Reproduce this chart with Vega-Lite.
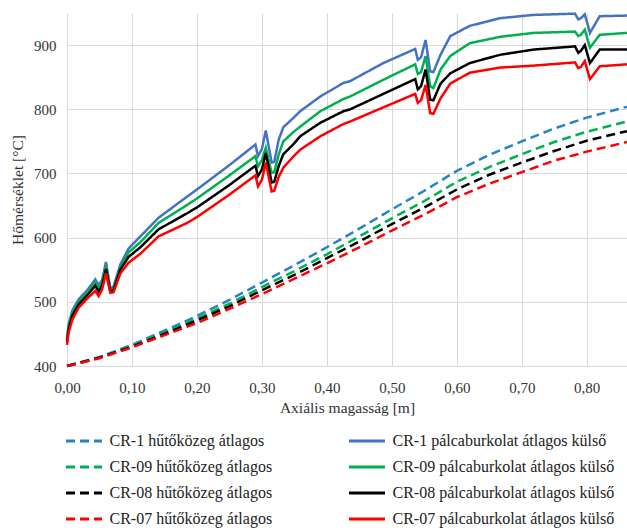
{
  "$schema": "https://vega.github.io/schema/vega-lite/v6.json",
  "width": 560,
  "height": 353,
  "autosize": {"type": "none"},
  "padding": {"left": 67, "top": 13, "right": 0, "bottom": 164},
  "background": "white",
  "config": {"view": {"stroke": null}, "font": "Liberation Serif"},
  "datasets": {
    "cool": [
      {"x": 0, "CR-1 hűtőközeg átlagos": 400, "CR-09 hűtőközeg átlagos": 400, "CR-08 hűtőközeg átlagos": 400, "CR-07 hűtőközeg átlagos": 400},
      {"x": 0.05, "CR-1 hűtőközeg átlagos": 414, "CR-09 hűtőközeg átlagos": 413, "CR-08 hűtőközeg átlagos": 413, "CR-07 hűtőközeg átlagos": 412},
      {"x": 0.1, "CR-1 hűtőközeg átlagos": 433, "CR-09 hűtőközeg átlagos": 431, "CR-08 hűtőközeg átlagos": 430, "CR-07 hűtőközeg átlagos": 429},
      {"x": 0.15, "CR-1 hűtőközeg átlagos": 455, "CR-09 hűtőközeg átlagos": 452, "CR-08 hűtőközeg átlagos": 450, "CR-07 hűtőközeg átlagos": 448},
      {"x": 0.2, "CR-1 hűtőközeg átlagos": 478, "CR-09 hűtőközeg átlagos": 474, "CR-08 hűtőközeg átlagos": 471, "CR-07 hűtőközeg átlagos": 467},
      {"x": 0.25, "CR-1 hűtőközeg átlagos": 503, "CR-09 hűtőközeg átlagos": 497, "CR-08 hűtőközeg átlagos": 493, "CR-07 hűtőközeg átlagos": 489},
      {"x": 0.3, "CR-1 hűtőközeg átlagos": 530, "CR-09 hűtőközeg átlagos": 523, "CR-08 hűtőközeg átlagos": 518, "CR-07 hűtőközeg átlagos": 512},
      {"x": 0.35, "CR-1 hűtőközeg átlagos": 557, "CR-09 hűtőközeg átlagos": 548, "CR-08 hűtőközeg átlagos": 542, "CR-07 hűtőközeg átlagos": 536},
      {"x": 0.4, "CR-1 hűtőközeg átlagos": 585, "CR-09 hűtőközeg átlagos": 574, "CR-08 hűtőközeg átlagos": 568, "CR-07 hűtőközeg átlagos": 560},
      {"x": 0.45, "CR-1 hűtőközeg átlagos": 614, "CR-09 hűtőközeg átlagos": 602, "CR-08 hűtőközeg átlagos": 594, "CR-07 hűtőközeg átlagos": 585},
      {"x": 0.5, "CR-1 hűtőközeg átlagos": 644, "CR-09 hűtőközeg átlagos": 630, "CR-08 hűtőközeg átlagos": 621, "CR-07 hűtőközeg átlagos": 611},
      {"x": 0.55, "CR-1 hűtőközeg átlagos": 673, "CR-09 hűtőközeg átlagos": 657, "CR-08 hűtőközeg átlagos": 647, "CR-07 hűtőközeg átlagos": 636},
      {"x": 0.6, "CR-1 hűtőközeg átlagos": 704, "CR-09 hűtőközeg átlagos": 687, "CR-08 hűtőközeg átlagos": 675, "CR-07 hűtőközeg átlagos": 663},
      {"x": 0.65, "CR-1 hűtőközeg átlagos": 729, "CR-09 hűtőközeg átlagos": 710, "CR-08 hűtőközeg átlagos": 698, "CR-07 hűtőközeg átlagos": 684},
      {"x": 0.7, "CR-1 hűtőközeg átlagos": 750, "CR-09 hűtőközeg átlagos": 730, "CR-08 hűtőközeg átlagos": 717, "CR-07 hűtőközeg átlagos": 702},
      {"x": 0.75, "CR-1 hűtőközeg átlagos": 770, "CR-09 hűtőközeg átlagos": 749, "CR-08 hűtőközeg átlagos": 735, "CR-07 hűtőközeg átlagos": 720},
      {"x": 0.8, "CR-1 hűtőközeg átlagos": 787, "CR-09 hűtőközeg átlagos": 765, "CR-08 hűtőközeg átlagos": 751, "CR-07 hűtőközeg átlagos": 734},
      {"x": 0.862, "CR-1 hűtőközeg átlagos": 804, "CR-09 hűtőközeg átlagos": 781, "CR-08 hűtőközeg átlagos": 766, "CR-07 hűtőközeg átlagos": 749}
    ],
    "clad": [
      {"x": 0, "CR-1 pálcaburkolat átlagos külső": 443, "CR-09 pálcaburkolat átlagos külső": 440, "CR-08 pálcaburkolat átlagos külső": 437, "CR-07 pálcaburkolat átlagos külső": 433},
      {"x": 0.0025, "CR-1 pálcaburkolat átlagos külső": 465, "CR-09 pálcaburkolat átlagos külső": 461, "CR-08 pálcaburkolat átlagos külső": 457, "CR-07 pálcaburkolat átlagos külső": 452},
      {"x": 0.008, "CR-1 pálcaburkolat átlagos külső": 486, "CR-09 pálcaburkolat átlagos külső": 482, "CR-08 pálcaburkolat átlagos külső": 478, "CR-07 pálcaburkolat átlagos külső": 472},
      {"x": 0.018, "CR-1 pálcaburkolat átlagos külső": 504, "CR-09 pálcaburkolat átlagos külső": 500, "CR-08 pálcaburkolat átlagos külső": 496, "CR-07 pálcaburkolat átlagos külső": 491},
      {"x": 0.031, "CR-1 pálcaburkolat átlagos külső": 518, "CR-09 pálcaburkolat átlagos külső": 514, "CR-08 pálcaburkolat átlagos külső": 510, "CR-07 pálcaburkolat átlagos külső": 505},
      {"x": 0.0435, "CR-1 pálcaburkolat átlagos külső": 535, "CR-09 pálcaburkolat átlagos külső": 530, "CR-08 pálcaburkolat átlagos külső": 525, "CR-07 pálcaburkolat átlagos külső": 517},
      {"x": 0.0487, "CR-1 pálcaburkolat átlagos külső": 526, "CR-09 pálcaburkolat átlagos külső": 521, "CR-08 pálcaburkolat átlagos külső": 516, "CR-07 pálcaburkolat átlagos külső": 509},
      {"x": 0.054, "CR-1 pálcaburkolat átlagos külső": 534, "CR-09 pálcaburkolat átlagos külső": 530, "CR-08 pálcaburkolat átlagos külső": 525, "CR-07 pálcaburkolat átlagos külső": 519},
      {"x": 0.06, "CR-1 pálcaburkolat átlagos külső": 562, "CR-09 pálcaburkolat átlagos külső": 556, "CR-08 pálcaburkolat átlagos külső": 551, "CR-07 pálcaburkolat átlagos külső": 545},
      {"x": 0.0667, "CR-1 pálcaburkolat átlagos külső": 521, "CR-09 pálcaburkolat átlagos külső": 518, "CR-08 pálcaburkolat átlagos külső": 516, "CR-07 pálcaburkolat átlagos külső": 514},
      {"x": 0.0717, "CR-1 pálcaburkolat átlagos külső": 524, "CR-09 pálcaburkolat átlagos külső": 521, "CR-08 pálcaburkolat átlagos külső": 518, "CR-07 pálcaburkolat átlagos külső": 515},
      {"x": 0.082, "CR-1 pálcaburkolat átlagos külső": 558, "CR-09 pálcaburkolat átlagos külső": 553, "CR-08 pálcaburkolat átlagos külső": 550, "CR-07 pálcaburkolat átlagos külső": 544},
      {"x": 0.0948, "CR-1 pálcaburkolat átlagos külső": 583, "CR-09 pálcaburkolat átlagos külső": 577, "CR-08 pálcaburkolat átlagos külső": 570, "CR-07 pálcaburkolat átlagos külső": 561},
      {"x": 0.113, "CR-1 pálcaburkolat átlagos külső": 602, "CR-09 pálcaburkolat átlagos külső": 593, "CR-08 pálcaburkolat átlagos külső": 585, "CR-07 pálcaburkolat átlagos külső": 575},
      {"x": 0.141, "CR-1 pálcaburkolat átlagos külső": 631, "CR-09 pálcaburkolat átlagos külső": 623, "CR-08 pálcaburkolat átlagos külső": 613, "CR-07 pálcaburkolat átlagos külső": 602},
      {"x": 0.185, "CR-1 pálcaburkolat átlagos külső": 664, "CR-09 pálcaburkolat átlagos külső": 651, "CR-08 pálcaburkolat átlagos külső": 638, "CR-07 pálcaburkolat átlagos külső": 623},
      {"x": 0.2, "CR-1 pálcaburkolat átlagos külső": 675, "CR-09 pálcaburkolat átlagos külső": 661, "CR-08 pálcaburkolat átlagos külső": 647, "CR-07 pálcaburkolat átlagos külső": 632},
      {"x": 0.25, "CR-1 pálcaburkolat átlagos külső": 713, "CR-09 pálcaburkolat átlagos külső": 697, "CR-08 pálcaburkolat átlagos külső": 682, "CR-07 pálcaburkolat átlagos külső": 667},
      {"x": 0.29, "CR-1 pálcaburkolat átlagos külső": 745, "CR-09 pálcaburkolat átlagos külső": 727, "CR-08 pálcaburkolat átlagos külső": 712, "CR-07 pálcaburkolat átlagos külső": 697},
      {"x": 0.294, "CR-1 pálcaburkolat átlagos külső": 727, "CR-09 pálcaburkolat átlagos külső": 711, "CR-08 pálcaburkolat átlagos külső": 696, "CR-07 pálcaburkolat átlagos külső": 680},
      {"x": 0.3, "CR-1 pálcaburkolat átlagos külső": 738, "CR-09 pálcaburkolat átlagos külső": 721, "CR-08 pálcaburkolat átlagos külső": 706, "CR-07 pálcaburkolat átlagos külső": 690},
      {"x": 0.306, "CR-1 pálcaburkolat átlagos külső": 767, "CR-09 pálcaburkolat átlagos külső": 740, "CR-08 pálcaburkolat átlagos külső": 732, "CR-07 pálcaburkolat átlagos külső": 717},
      {"x": 0.315, "CR-1 pálcaburkolat átlagos külső": 717, "CR-09 pálcaburkolat átlagos külső": 701, "CR-08 pálcaburkolat átlagos külső": 686, "CR-07 pálcaburkolat átlagos külső": 672},
      {"x": 0.319, "CR-1 pálcaburkolat átlagos külső": 718, "CR-09 pálcaburkolat átlagos külső": 702, "CR-08 pálcaburkolat átlagos külső": 687, "CR-07 pálcaburkolat átlagos külső": 673},
      {"x": 0.326, "CR-1 pálcaburkolat átlagos külső": 753, "CR-09 pálcaburkolat átlagos külső": 730, "CR-08 pálcaburkolat átlagos külső": 712, "CR-07 pálcaburkolat átlagos külső": 695},
      {"x": 0.333, "CR-1 pálcaburkolat átlagos külső": 772, "CR-09 pálcaburkolat átlagos külső": 750, "CR-08 pálcaburkolat átlagos külső": 730, "CR-07 pálcaburkolat átlagos külső": 709},
      {"x": 0.349, "CR-1 pálcaburkolat átlagos külső": 787, "CR-09 pálcaburkolat átlagos külső": 765, "CR-08 pálcaburkolat átlagos külső": 746, "CR-07 pálcaburkolat átlagos külső": 727},
      {"x": 0.359, "CR-1 pálcaburkolat átlagos külső": 797, "CR-09 pálcaburkolat átlagos külső": 773, "CR-08 pálcaburkolat átlagos külső": 758, "CR-07 pálcaburkolat átlagos külső": 737},
      {"x": 0.39, "CR-1 pálcaburkolat átlagos külső": 820, "CR-09 pálcaburkolat átlagos külső": 797, "CR-08 pálcaburkolat átlagos külső": 779, "CR-07 pálcaburkolat átlagos külső": 758},
      {"x": 0.4255, "CR-1 pálcaburkolat átlagos külső": 841, "CR-09 pálcaburkolat átlagos külső": 816, "CR-08 pálcaburkolat átlagos külső": 797, "CR-07 pálcaburkolat átlagos külső": 777},
      {"x": 0.436, "CR-1 pálcaburkolat átlagos külső": 844, "CR-09 pálcaburkolat átlagos külső": 820, "CR-08 pálcaburkolat átlagos külső": 800, "CR-07 pálcaburkolat átlagos külső": 781},
      {"x": 0.487, "CR-1 pálcaburkolat átlagos külső": 872, "CR-09 pálcaburkolat átlagos külső": 846, "CR-08 pálcaburkolat átlagos külső": 824, "CR-07 pálcaburkolat átlagos külső": 803},
      {"x": 0.536, "CR-1 pálcaburkolat átlagos külső": 894, "CR-09 pálcaburkolat átlagos külső": 870, "CR-08 pálcaburkolat átlagos külső": 847, "CR-07 pálcaburkolat átlagos külső": 824},
      {"x": 0.54, "CR-1 pálcaburkolat átlagos külső": 877, "CR-09 pálcaburkolat átlagos külső": 855, "CR-08 pálcaburkolat átlagos külső": 831, "CR-07 pálcaburkolat átlagos külső": 810},
      {"x": 0.545, "CR-1 pálcaburkolat átlagos külső": 881, "CR-09 pálcaburkolat átlagos külső": 858, "CR-08 pálcaburkolat átlagos külső": 836, "CR-07 pálcaburkolat átlagos külső": 814},
      {"x": 0.552, "CR-1 pálcaburkolat átlagos külső": 908, "CR-09 pálcaburkolat átlagos külső": 883, "CR-08 pálcaburkolat átlagos külső": 862, "CR-07 pálcaburkolat átlagos külső": 838},
      {"x": 0.559, "CR-1 pálcaburkolat átlagos külső": 859, "CR-09 pálcaburkolat átlagos külső": 836, "CR-08 pálcaburkolat átlagos külső": 815, "CR-07 pálcaburkolat átlagos külső": 794},
      {"x": 0.564, "CR-1 pálcaburkolat átlagos külső": 858, "CR-09 pálcaburkolat átlagos külső": 833, "CR-08 pálcaburkolat átlagos külső": 814, "CR-07 pálcaburkolat átlagos külső": 793},
      {"x": 0.575, "CR-1 pálcaburkolat átlagos külső": 885, "CR-09 pálcaburkolat átlagos külső": 862, "CR-08 pálcaburkolat átlagos külső": 840, "CR-07 pálcaburkolat átlagos külső": 817},
      {"x": 0.59, "CR-1 pálcaburkolat átlagos külső": 914, "CR-09 pálcaburkolat átlagos külső": 883, "CR-08 pálcaburkolat átlagos külső": 856, "CR-07 pálcaburkolat átlagos külső": 840},
      {"x": 0.62, "CR-1 pálcaburkolat átlagos külső": 930, "CR-09 pálcaburkolat átlagos külső": 903, "CR-08 pálcaburkolat átlagos külső": 872, "CR-07 pálcaburkolat átlagos külső": 857},
      {"x": 0.667, "CR-1 pálcaburkolat átlagos külső": 942, "CR-09 pálcaburkolat átlagos külső": 913, "CR-08 pálcaburkolat átlagos külső": 885, "CR-07 pálcaburkolat átlagos külső": 865},
      {"x": 0.718, "CR-1 pálcaburkolat átlagos külső": 947, "CR-09 pálcaburkolat átlagos külső": 919, "CR-08 pálcaburkolat átlagos külső": 893, "CR-07 pálcaburkolat átlagos külső": 868},
      {"x": 0.782, "CR-1 pálcaburkolat átlagos külső": 949, "CR-09 pálcaburkolat átlagos külső": 921, "CR-08 pálcaburkolat átlagos külső": 898, "CR-07 pálcaburkolat átlagos külső": 873},
      {"x": 0.787, "CR-1 pálcaburkolat átlagos külső": 940, "CR-09 pálcaburkolat átlagos külső": 914, "CR-08 pálcaburkolat átlagos külső": 888, "CR-07 pálcaburkolat átlagos külső": 864},
      {"x": 0.791, "CR-1 pálcaburkolat átlagos külső": 942, "CR-09 pálcaburkolat átlagos külső": 916, "CR-08 pálcaburkolat átlagos külső": 891, "CR-07 pálcaburkolat átlagos külső": 866},
      {"x": 0.797, "CR-1 pálcaburkolat átlagos külső": 948, "CR-09 pálcaburkolat átlagos külső": 924, "CR-08 pálcaburkolat átlagos külső": 900, "CR-07 pálcaburkolat átlagos külső": 875},
      {"x": 0.805, "CR-1 pálcaburkolat átlagos külső": 919, "CR-09 pálcaburkolat átlagos külső": 896, "CR-08 pálcaburkolat átlagos külső": 872, "CR-07 pálcaburkolat átlagos külső": 847},
      {"x": 0.82, "CR-1 pálcaburkolat átlagos külső": 945, "CR-09 pálcaburkolat átlagos külső": 916, "CR-08 pálcaburkolat átlagos külső": 893, "CR-07 pálcaburkolat átlagos külső": 867},
      {"x": 0.862, "CR-1 pálcaburkolat átlagos külső": 946, "CR-09 pálcaburkolat átlagos külső": 919, "CR-08 pálcaburkolat átlagos külső": 893, "CR-07 pálcaburkolat átlagos külső": 870}
    ]
  },
  "encoding": {
    "x": {
      "field": "x", "type": "quantitative",
      "scale": {"domain": [0, 0.862], "nice": false, "zero": false},
      "axis": {
        "title": "Axiális magasság [m]",
        "values": [0, 0.1, 0.2, 0.3, 0.4, 0.5, 0.6, 0.7, 0.8],
        "labelExpr": "replace(format(datum.value, '.2f'), '.', ',')",
        "grid": true, "gridColor": "#d9d9d9", "gridWidth": 1,
        "domain": false, "ticks": false,
        "labelFont": "Liberation Serif", "labelFontSize": 15, "labelColor": "#333333",
        "labelPadding": 14, "labelFlush": false,
        "titleFont": "Liberation Serif", "titleFontSize": 15.5, "titleFontWeight": "normal", "titleColor": "#333333",
        "titlePadding": 5
      }
    },
    "y": {
      "field": "y", "type": "quantitative",
      "scale": {"domain": [400, 950], "nice": false, "zero": false},
      "axis": {
        "title": "Hőmérséklet [°C]",
        "values": [400, 500, 600, 700, 800, 900],
        "grid": true, "gridColor": "#d9d9d9", "gridWidth": 1,
        "domain": false, "ticks": false,
        "labelFont": "Liberation Serif", "labelFontSize": 15, "labelColor": "#333333",
        "labelPadding": 11,
        "titleFont": "Liberation Serif", "titleFontSize": 15.5, "titleFontWeight": "normal", "titleColor": "#333333",
        "titlePadding": 8
      }
    },
    "color": {
      "field": "s", "type": "nominal",
      "scale": {
        "domain": ["CR-1 hűtőközeg átlagos", "CR-1 pálcaburkolat átlagos külső", "CR-09 hűtőközeg átlagos", "CR-09 pálcaburkolat átlagos külső", "CR-08 hűtőközeg átlagos", "CR-08 pálcaburkolat átlagos külső", "CR-07 hűtőközeg átlagos", "CR-07 pálcaburkolat átlagos külső"],
        "range": ["#2683C6", "#4472C4", "#00B050", "#00B050", "#000000", "#000000", "#FF0000", "#FF0000"]
      },
      "legend": {
        "title": null, "orient": "none", "legendX": 8, "legendY": 419, "direction": "horizontal",
        "columns": 2, "symbolType": "M-2.4,0L2.4,0", "symbolSize": 225, "symbolStrokeWidth": 3,
        "labelFont": "Liberation Serif", "labelFontSize": 16, "labelColor": "#222222", "labelOffset": 16.5,
        "labelLimit": 400, "rowPadding": 9, "columnPadding": 70, "padding": 0
      }
    },
    "strokeDash": {
      "field": "s", "type": "nominal",
      "scale": {
        "domain": ["CR-1 hűtőközeg átlagos", "CR-1 pálcaburkolat átlagos külső", "CR-09 hűtőközeg átlagos", "CR-09 pálcaburkolat átlagos külső", "CR-08 hűtőközeg átlagos", "CR-08 pálcaburkolat átlagos külső", "CR-07 hűtőközeg átlagos", "CR-07 pálcaburkolat átlagos külső"],
        "range": [[9, 5], [1, 0], [9, 5], [1, 0], [9, 5], [1, 0], [9, 5], [1, 0]]
      },
      "legend": {
        "title": null, "orient": "none", "legendX": 8, "legendY": 419, "direction": "horizontal",
        "columns": 2, "symbolType": "M-2.4,0L2.4,0", "symbolSize": 225, "symbolStrokeWidth": 3,
        "labelFont": "Liberation Serif", "labelFontSize": 16, "labelColor": "#222222", "labelOffset": 16.5,
        "labelLimit": 400, "rowPadding": 9, "columnPadding": 70, "padding": 0
      }
    }
  },
  "layer": [
    {
      "data": {"name": "cool"},
      "transform": [{"fold": ["CR-1 hűtőközeg átlagos", "CR-09 hűtőközeg átlagos", "CR-08 hűtőközeg átlagos", "CR-07 hűtőközeg átlagos"], "as": ["s", "y"]}],
      "mark": {"type": "line", "strokeWidth": 2.5}
    },
    {
      "data": {"name": "clad"},
      "transform": [{"fold": ["CR-1 pálcaburkolat átlagos külső", "CR-09 pálcaburkolat átlagos külső", "CR-08 pálcaburkolat átlagos külső", "CR-07 pálcaburkolat átlagos külső"], "as": ["s", "y"]}],
      "mark": {"type": "line", "strokeWidth": 2.5}
    }
  ]
}
